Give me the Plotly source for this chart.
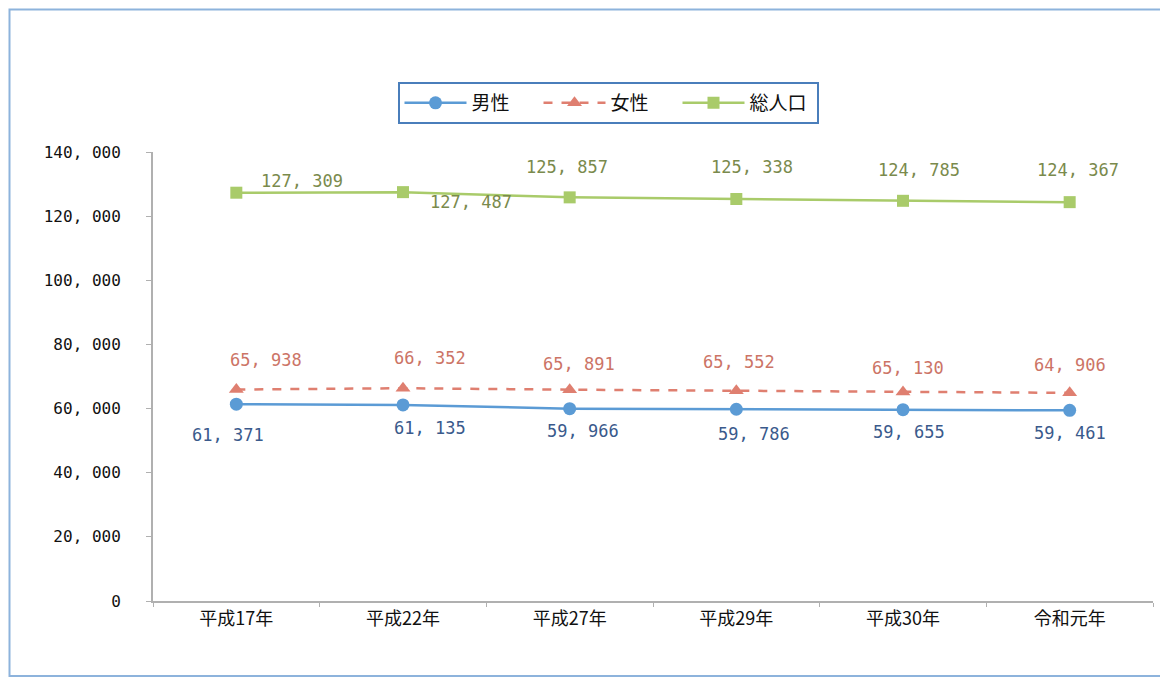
import plotly.graph_objects as go

categories = ["平成17年", "平成22年", "平成27年", "平成29年", "平成30年", "令和元年"]
male = [61371, 61135, 59966, 59786, 59655, 59461]
female = [65938, 66352, 65891, 65552, 65130, 64906]
total = [127309, 127487, 125857, 125338, 124785, 124367]
y_ticks = [0, 20000, 40000, 60000, 80000, 100000, 120000, 140000]

# label offsets (pixels) – styling only
total_dx = [66, 68, -3, 16, 16, 8]
total_dy = [12, -10, 30, 32, 31, 32]
female_dx = [30, 27, 9, 3, 5, 0]
female_dy = [30, 30, 26, 29, 24, 28]
male_dx = [-8, 27, 13, 18, 6, 0]
male_dy = [-31, -23, -22, -25, -22, -23]

FONT = "Noto Sans CJK JP"
NUMFONT = "DejaVu Sans Mono, Noto Sans CJK JP"


def fmt(v):
    return f"{v:,}".replace(",", ", ")


C_MALE = "#5b9bd5"
C_FEMALE = "#df7f70"
C_TOTAL = "#a9cb6a"
T_MALE = "#3a5a8c"
T_FEMALE = "#cc7466"
T_TOTAL = "#7a8a4c"

fig = go.Figure()
fig.add_trace(go.Scatter(
    x=categories, y=male, name="男性", mode="lines+markers",
    line=dict(color=C_MALE, width=2.5),
    marker=dict(symbol="circle", size=13, color=C_MALE),
))
fig.add_trace(go.Scatter(
    x=categories, y=female, name="女性", mode="lines+markers",
    line=dict(color=C_FEMALE, width=2.5, dash="dash"),
    marker=dict(symbol="triangle-up", size=13, color=C_FEMALE),
))
fig.add_trace(go.Scatter(
    x=categories, y=total, name="総人口", mode="lines+markers",
    line=dict(color=C_TOTAL, width=2.5),
    marker=dict(symbol="square", size=12, color=C_TOTAL),
))

annotations = []
for series, dxs, dys, col in [(total, total_dx, total_dy, T_TOTAL),
                              (female, female_dx, female_dy, T_FEMALE),
                              (male, male_dx, male_dy, T_MALE)]:
    for c, v, dx, dy in zip(categories, series, dxs, dys):
        annotations.append(dict(
            x=c, y=v, xref="x", yref="y", text=fmt(v), showarrow=False,
            xshift=dx, yshift=dy,
            font=dict(family=NUMFONT, size=17, color=col),
        ))

# page has an 8px body margin; all reference pixel positions are shifted by it
OFF = 8
W, H = 1160, 673
L, R, T, B = 153 - OFF, 15, 152 - OFF, 80
pw, ph = W - L - R, H - T - B


def px(x):
    return (x - OFF - L) / pw


def py(y):
    return (H - B - (y - OFF)) / ph


fig.update_layout(
    width=W, height=H,
    margin=dict(l=L, r=R, t=T, b=B),
    paper_bgcolor="white", plot_bgcolor="white",
    font=dict(family=FONT, color="#222222"),
    showlegend=True,
    legend=dict(
        orientation="h", x=px(608), y=py(103), xanchor="center", yanchor="middle",
        bordercolor="#4a7ebb", borderwidth=2, bgcolor="white",
        font=dict(family=FONT, size=19, color="#111111"),
        itemwidth=62, entrywidth=62, entrywidthmode="pixels",
    ),
    xaxis=dict(
        showgrid=False, showline=True, linecolor="#b0b0b0", linewidth=2,
        ticks="outside", tickson="boundaries", ticklen=4, tickcolor="#b0b0b0",
        tickfont=dict(family=FONT, size=18, color="#111111"),
        range=[-0.5, 5.5],
    ),
    yaxis=dict(
        range=[0, 140000], showgrid=False, showline=True, linecolor="#b0b0b0", linewidth=2,
        ticks="outside", ticklen=5, tickcolor="#b0b0b0",
        tickvals=y_ticks, ticktext=[fmt(v) for v in y_ticks],
        tickfont=dict(family=NUMFONT, size=16, color="#111111"),
        ticklabelstandoff=22, zeroline=False,
    ),
    annotations=annotations,
    shapes=[dict(
        type="rect", xref="paper", yref="paper",
        x0=px(9.5), x1=px(1161), y0=py(676), y1=py(9.5),
        line=dict(color="#8db3dc", width=2), layer="below",
    )],
)

fig.write_html("out.html")
